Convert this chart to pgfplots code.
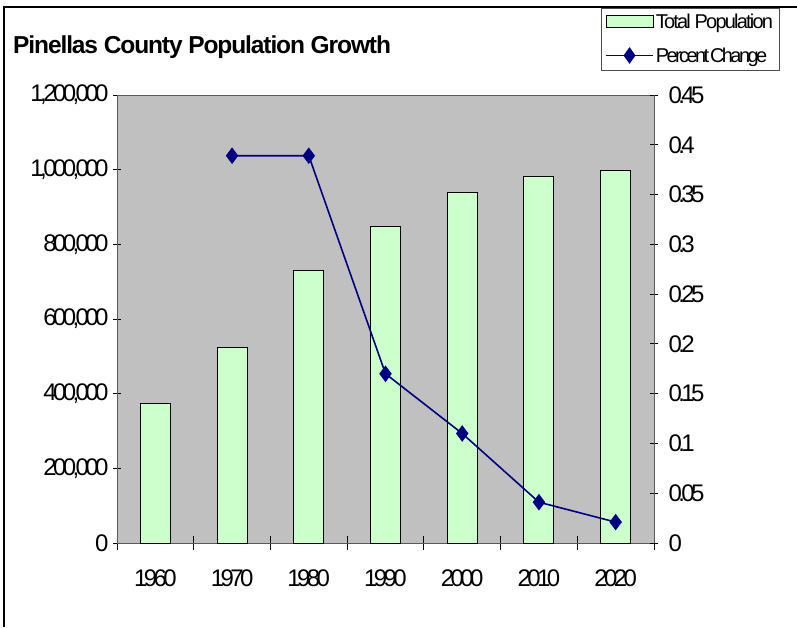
\documentclass[border=0pt]{standalone}
\usepackage{pgfplots}
\pgfplotsset{compat=1.18}
\usepackage{fontspec}
\setmainfont{Liberation Sans}
\newfontfamily\tickfont[LetterSpace=-15]{Liberation Sans}
\newfontfamily\titlefont[LetterSpace=-4.5]{Liberation Sans}
\newfontfamily\legfont[LetterSpace=-9]{Liberation Sans}
\definecolor{plotbg}{HTML}{C0C0C0}
\definecolor{barfill}{HTML}{CCFFCC}
\definecolor{navyline}{HTML}{000080}

\pgfplotstableread{
idx pop
0 375000
1 525000
2 731000
3 849000
4 940000
5 983000
6 999000
}\poptable

\pgfplotstableread{
idx pct
1 0.389
2 0.389
3 0.170
4 0.110
5 0.041
6 0.021
}\pcttable

\begin{document}
\begin{tikzpicture}[x=1pt,y=1pt]
\useasboundingbox (0,0) rectangle (797,627);
\draw[line width=2pt] (4,0) -- (4,620) -- (797,620);
\node[anchor=base west,inner sep=0pt,font=\titlefont\bfseries\fontsize{24.5}{28}\selectfont] at (13,573) {Pinellas County Population Growth};

\begin{axis}[at={(117pt,84pt)},anchor=south west,scale only axis,width=537pt,height=448pt,
  xmin=-0.5,xmax=6.5,ymin=0,ymax=1200000,
  axis background/.style={fill=plotbg},
  axis line style={draw=black!65,line width=0.8pt},
  ytick={0,200000,400000,600000,800000,1000000,1200000},scaled y ticks=false,
  yticklabel style={/pgf/number format/fixed,/pgf/number format/1000 sep={,}},
  /pgf/number format/assume math mode=true,
  xtick={0,...,6},xticklabels={1960,1970,1980,1990,2000,2010,2020},
  minor xtick={-0.5,0.5,...,6.5},
  major x tick style={draw=none},
  xtick pos=bottom,ytick pos=left,tick align=center,
  major tick length=8pt,minor tick length=14pt,
  tick style={black,line width=0.8pt},
  ticklabel style={font=\tickfont\fontsize{24}{26}\selectfont},
  xticklabel style={yshift=-19pt},
  yticklabel style={xshift=-1pt}]
\addplot[ybar,bar width=30pt,fill=barfill,draw=black,line width=1pt] table[x=idx,y=pop]{\poptable};
\end{axis}

\begin{axis}[at={(117pt,84pt)},anchor=south west,scale only axis,width=537pt,height=448pt,
  xmin=-0.5,xmax=6.5,ymin=0,ymax=0.45,
  axis x line=none,axis y line*=right,
  axis line style={draw=black!65,line width=0.8pt},
  ytick={0,0.05,0.1,0.15,0.2,0.25,0.3,0.35,0.4,0.45},
  yticklabel style={/pgf/number format/fixed,/pgf/number format/precision=2},
  /pgf/number format/assume math mode=true,
  tick align=center,major tick length=8pt,
  tick style={black,line width=0.8pt},
  ticklabel style={font=\tickfont\fontsize{24}{26}\selectfont,xshift=7pt},
  legend style={at={(0.901,1.194)},anchor=north west,draw=black!70,fill=white,
    font=\legfont\fontsize{20}{22}\selectfont,row sep=14pt,inner sep=4pt,line width=0.8pt},
  legend cell align=left]
\addlegendimage{legend image code/.code={\draw[fill=barfill,draw=black,line width=0.8pt] (0pt,-5pt) rectangle (47pt,7pt);}}
\addlegendentry{Total Population}
\addplot[navyline,line width=1.6pt,mark=diamond*,mark size=7pt,
  legend image code/.code={\draw[navyline,line width=1.6pt] (0pt,1pt) -- (47pt,1pt);
    \fill[navyline] (23.5pt,8pt) -- (28.5pt,1pt) -- (23.5pt,-6pt) -- (18.5pt,1pt) -- cycle;}]
  table[x=idx,y=pct]{\pcttable};
\addlegendentry{\addfontfeature{LetterSpace=-13}Percent\kern-2pt\ Change}
\end{axis}
\end{tikzpicture}
\end{document}
